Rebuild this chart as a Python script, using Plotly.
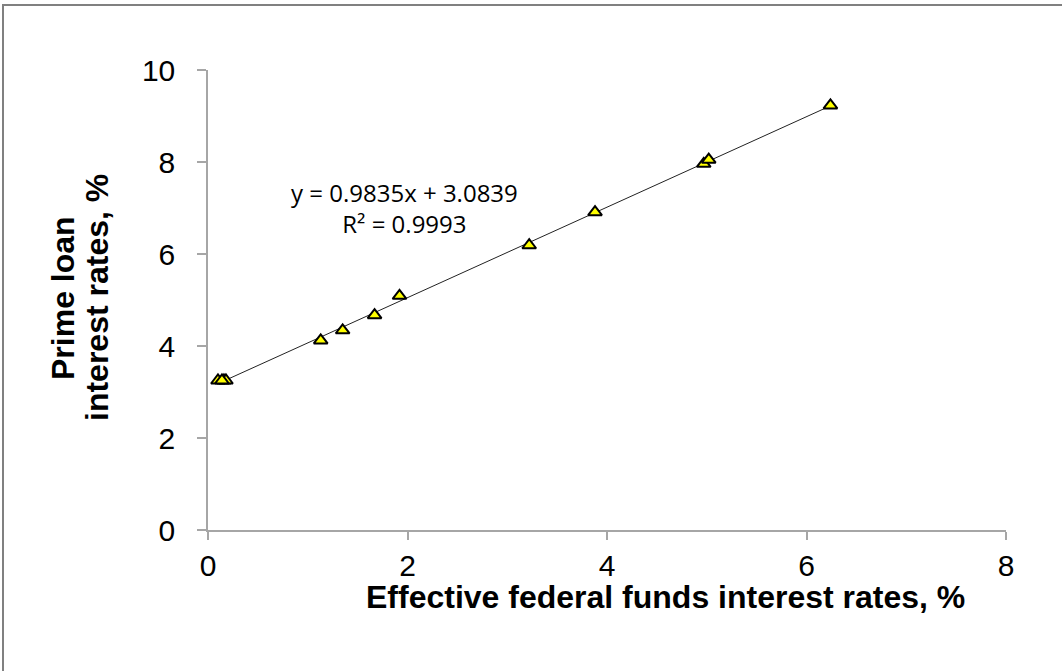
import plotly.graph_objects as go

# Effective federal funds rate vs prime loan rate (annual averages), %
fed_funds = [6.24, 3.88, 1.67, 1.13, 1.35, 3.22, 4.97, 5.02, 1.92, 0.16, 0.18, 0.10, 0.14]
prime_rate = [9.23, 6.91, 4.67, 4.12, 4.34, 6.19, 7.96, 8.05, 5.09, 3.25, 3.25, 3.25, 3.25]

# linear trendline shown on the chart
slope = 0.9835
intercept = 3.0839
r_squared = 0.9993

x_ticks = [0, 2, 4, 6, 8]
y_ticks = [0, 2, 4, 6, 8, 10]

trend_x = [min(fed_funds), max(fed_funds)]
trend_y = [slope * v + intercept for v in trend_x]

# plot area in pixels: x 208..1006, y 70..530
L, R, T, B = 208, 1006, 70, 530


def px(x):
    return (x - L) / (R - L)


def py(y):
    return (B - y) / (B - T)


fig = go.Figure()

# Trendline
fig.add_trace(go.Scatter(
    x=trend_x, y=trend_y, mode='lines',
    line=dict(color='#222222', width=1),
    showlegend=False, hoverinfo='skip'
))

# Data points
fig.add_trace(go.Scatter(
    x=fed_funds, y=prime_rate, mode='markers',
    marker=dict(symbol='triangle-up', size=12, color='#ffff00',
                line=dict(color='black', width=2)),
    showlegend=False
))

tick_font = dict(family='Liberation Sans, Arial', size=30, color='black')
title_font = dict(family='Liberation Sans, Arial', size=32, color='black')
eq_font = dict(family='Open Sans', size=24, color='black')

fig.update_layout(
    width=1062, height=671,
    margin=dict(l=L, r=1062 - R, t=T, b=671 - B),
    paper_bgcolor='white', plot_bgcolor='white',
    xaxis=dict(range=[0, 8], tickvals=x_ticks, showgrid=False, zeroline=False,
               showline=True, linecolor='#a6a6a6', linewidth=1.5,
               ticks='outside', ticklen=8, tickcolor='#a6a6a6', tickwidth=1.5,
               tickfont=tick_font, ticklabelstandoff=0),
    yaxis=dict(range=[0, 10], tickvals=y_ticks, showgrid=False, zeroline=False,
               showline=True, linecolor='#a6a6a6', linewidth=1.5,
               ticks='outside', ticklen=9, tickcolor='#a6a6a6', tickwidth=1.5,
               tickfont=tick_font, ticklabelstandoff=16),
    annotations=[
        dict(text='<b>Effective federal funds interest rates, %</b>',
             xref='paper', yref='paper', x=px(665), y=py(597),
             showarrow=False, font=title_font, xanchor='center', yanchor='middle'),
        dict(text='<b>Prime loan</b>', textangle=-90,
             xref='paper', yref='paper', x=px(63), y=py(298),
             showarrow=False, font=title_font, xanchor='center', yanchor='middle'),
        dict(text='<b>interest rates, %</b>', textangle=-90,
             xref='paper', yref='paper', x=px(97), y=py(298),
             showarrow=False, font=title_font, xanchor='center', yanchor='middle'),
        dict(text=f'y = {slope}x + {intercept}<br>R² = {r_squared}',
             xref='paper', yref='paper', x=px(404), y=py(208),
             showarrow=False, font=eq_font, xanchor='center', yanchor='middle',
             align='center'),
    ],
    shapes=[
        dict(type='rect', xref='paper', yref='paper',
             x0=px(3), y0=py(690), x1=px(1080), y1=py(5),
             line=dict(color='#808080', width=2))
    ],
)

fig.write_html("out.html", config={'displayModeBar': False},
               post_script="document.body.style.margin='0';document.body.style.padding='0';")
